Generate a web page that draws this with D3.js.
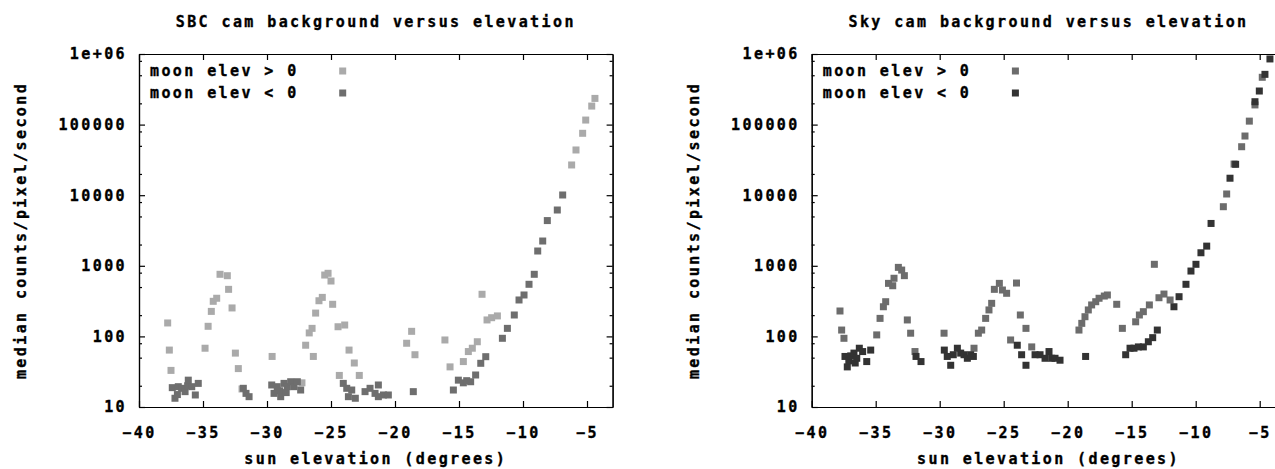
<!DOCTYPE html>
<html>
<head>
<meta charset="utf-8">
<script src="https://cdn.jsdelivr.net/npm/d3@7"></script>
<style>
  body { margin: 0; background: #fff; }
  text { font-family: "DejaVu Sans Mono", monospace; font-weight: bold; font-size: 15px; letter-spacing: 2.4px; fill: #000; stroke: #000; stroke-width: 0.35px; }
</style>
</head>
<body>
<script>
// tick values / labels
var xTicks = [-40, -35, -30, -25, -20, -15, -10, -5];
var yTicks = [10, 100, 1000, 10000, 100000, 1000000];
var yTickLabels = ["10", "100", "1000", "10000", "100000", "1e+06"];
var yMinor = [];
[10, 100, 1000, 10000, 100000].forEach(function(d) { [2, 5, 8].forEach(function(m) { yMinor.push(d * m); }); });

var titles = ["SBC cam background versus elevation", "Sky cam background versus elevation"];
var seriesNames = ["moon elev > 0", "moon elev < 0"];

// [sun elevation, median counts]
var sbcMoonUp = [[-37.76,155],[-37.63,64],[-37.5,33],[-34.84,68],[-34.6,139],[-34.35,226],[-34.2,314],[-33.93,347],
  [-33.67,758],[-33.1,724],[-33.0,464],[-32.73,253],[-32.47,58],[-32.24,35],[-31.95,18],[-29.6,52],[-27.27,22],
  [-26.98,75],[-26.7,112],[-26.48,130],[-26.38,52],[-26.2,214],[-25.94,320],[-25.68,357],[-25.49,740],[-25.23,783],
  [-25.0,609],[-24.87,285],[-24.45,137],[-23.93,145],[-23.59,64],[-23.18,42],[-22.79,28],[-24.35,28],[-19.09,80],
  [-18.7,118],[-18.44,55],[-16.1,89],[-15.7,37],[-14.66,44],[-14.27,61],[-13.96,68],[-13.57,84],[-13.2,395],
  [-12.81,171],[-12.45,184],[-12.0,195],[-6.2,26800],[-5.86,43700],[-5.34,75300],[-5.1,116000],[-4.63,183000],[-4.38,235000]];
var sbcMoonDown = [[-37.4,18.8],[-37.19,13.3],[-37.0,15],[-36.93,19.4],[-36.67,18.4],[-36.4,16.5],[-36.2,20],[-36.15,24],
  [-35.88,19.4],[-35.6,14.8],[-35.37,21.6],[-31.85,18.4],[-31.64,15.6],[-31.4,14.0],[-29.63,20.5],[-29.45,15.6],
  [-29.2,19.4],[-29.0,17],[-28.93,14.0],[-28.67,21.6],[-28.5,16],[-28.41,19.4],[-28.15,22.8],[-27.89,19.4],[-27.63,22.8],
  [-27.37,17.4],[-24.04,21.6],[-23.77,18.4],[-23.64,14.0],[-23.38,17.4],[-23.1,13.3],[-22.34,16.5],[-21.95,18.4],
  [-21.56,15.6],[-21.3,20.5],[-21.3,14.0],[-20.9,14.8],[-20.52,14.8],[-18.57,16.5],[-15.44,17.4],[-15.05,24],
  [-14.66,22],[-14.4,23.6],[-14.09,22.8],[-13.7,28.4],[-13.3,41.6],[-12.91,51.6],[-11.61,94],[-11.22,130],
  [-10.68,201],[-10.31,328],[-9.92,386],[-9.53,547],[-9.12,758],[-8.85,1620],[-8.46,2244],[-8.1,4370],
  [-7.32,6170],[-6.9,10070]];

var skyMoonUp = [[-37.79,229],[-37.66,123],[-37.48,94],[-34.92,105],[-34.66,180],[-34.4,263],[-34.22,310],[-34.0,564],
  [-33.67,522],[-33.57,666],[-33.23,950],[-32.97,870],[-32.76,725],[-32.53,171],[-32.27,111],[-31.93,61],[-29.66,111],
  [-27.32,68],[-26.98,111],[-26.72,123],[-26.41,180],[-26.15,237],[-25.94,294],[-25.73,464],[-25.34,564],[-25.1,454],
  [-24.77,408],[-24.46,89],[-24.0,570],[-23.7,201],[-23.26,130],[-22.81,71],[-19.12,123],[-18.9,153],[-18.65,190],
  [-18.39,237],[-18.13,279],[-17.81,310],[-17.55,347],[-17.14,373],[-16.9,386],[-16.17,285],[-15.73,130],[-14.69,161],
  [-14.4,201],[-14.09,224],[-13.62,279],[-13.23,1050],[-12.87,353],[-12.48,398],[-12.0,328],[-7.84,6870],[-7.58,10400],
  [-7.0,27600],[-6.41,48600],[-6.15,68900],[-5.81,112000],[-5.37,190000],[-4.8,468000]];
var skyMoonDown = [[-37.4,52],[-37.22,37],[-37.1,45],[-36.95,53],[-36.7,58],[-36.6,42],[-36.48,49],[-36.28,68],[-36.02,61],
  [-35.7,44],[-35.39,64],[-31.85,52],[-31.46,44],[-29.64,64],[-29.41,52],[-29.14,39],[-28.94,55],[-28.62,68],[-28.36,58],
  [-28.1,55],[-27.84,49],[-27.58,55],[-27.37,52],[-23.94,75],[-23.6,55],[-23.26,39],[-22.55,55],[-22.16,55],[-21.77,49],
  [-21.46,61],[-21.25,49],[-20.99,49],[-20.6,46],[-18.6,52],[-15.47,55],[-15.13,68],[-14.82,68],[-14.48,71],[-14.09,71],
  [-13.7,84],[-13.36,96],[-13.0,123],[-11.7,263],[-11.3,365],[-10.76,547],[-10.37,843],[-9.98,1050],[-9.59,1530],
  [-9.14,1900],[-8.8,3980],[-7.32,17400],[-6.88,27400],[-5.37,211000],[-5.03,299000],[-4.59,515000],[-4.2,851000]];

var W = 1275, H = 469;
var pw = 473.6, ph = 353, plotTop = 54;
var box = 7;

var svg = d3.select("body").append("svg").attr("width", W).attr("height", H);

var x = d3.scaleLinear().domain([-40, -3]).range([0, pw]);
var y = d3.scaleLog().domain([10, 1e6]).range([ph, 0]);

function drawPanel(left, title, up, down, upColor, downColor) {
  var g = svg.append("g").attr("transform", "translate(" + left + "," + plotTop + ")");

  // title and axis labels
  svg.append("text").attr("x", left + pw / 2).attr("y", 27).attr("text-anchor", "middle").text(title);
  svg.append("text").attr("x", left + pw / 2).attr("y", 464).attr("text-anchor", "middle").text("sun elevation (degrees)");
  svg.append("text")
    .attr("transform", "translate(" + (left - 113) + "," + (plotTop + ph / 2) + ") rotate(-90)")
    .attr("text-anchor", "middle").text("median counts/pixel/second");

  // axes, ticks pointing inward on all four sides
  g.append("g").attr("transform", "translate(0," + ph + ")")
    .call(d3.axisBottom(x).tickValues(xTicks).tickSizeInner(-6).tickSizeOuter(0).tickPadding(20).tickFormat(d3.format("d")));
  g.append("g").call(d3.axisTop(x).tickValues(xTicks).tickSizeInner(-6).tickSizeOuter(0).tickFormat(""));
  g.append("g")
    .call(d3.axisLeft(y).tickValues(yTicks).tickSizeInner(-6).tickSizeOuter(0).tickPadding(12)
      .tickFormat(function(d, i) { return yTickLabels[i]; }));
  g.append("g").attr("transform", "translate(" + pw + ",0)")
    .call(d3.axisRight(y).tickValues(yTicks).tickSizeInner(-6).tickSizeOuter(0).tickFormat(""));
  g.append("g").call(d3.axisLeft(y).tickValues(yMinor).tickSizeInner(-3).tickSizeOuter(0).tickFormat(""));
  g.append("g").attr("transform", "translate(" + pw + ",0)")
    .call(d3.axisRight(y).tickValues(yMinor).tickSizeInner(-3).tickSizeOuter(0).tickFormat(""));

  g.selectAll(".domain").attr("stroke", "#000").attr("stroke-width", 1.2);
  g.selectAll(".tick line").attr("stroke", "#000").attr("stroke-width", 1.2);
  g.selectAll(".tick text").style("font-family", "DejaVu Sans Mono").style("font-size", "15px")
    .style("font-weight", "bold").style("letter-spacing", "2.4px").attr("fill", "#000");

  // points
  [[up, upColor], [down, downColor]].forEach(function(s) {
    g.selectAll(null).data(s[0]).enter().append("rect")
      .attr("x", function(d) { return x(d[0]) - box / 2; })
      .attr("y", function(d) { return y(d[1]) - box / 2; })
      .attr("width", box).attr("height", box)
      .attr("fill", s[1]);
  });

  // legend
  var colors = [upColor, downColor];
  seriesNames.forEach(function(name, i) {
    g.append("text").attr("x", 11).attr("y", 22 + i * 22).text(name);
    g.append("rect").attr("x", 203.7 - box / 2).attr("y", 17 + i * 22 - box / 2)
      .attr("width", box).attr("height", box).attr("fill", colors[i]);
  });
}

drawPanel(139, titles[0], sbcMoonUp, sbcMoonDown, "#aaaaaa", "#6e6e6e");
drawPanel(811.7, titles[1], skyMoonUp, skyMoonDown, "#6c6c6c", "#333333");
</script>
</body>
</html>
